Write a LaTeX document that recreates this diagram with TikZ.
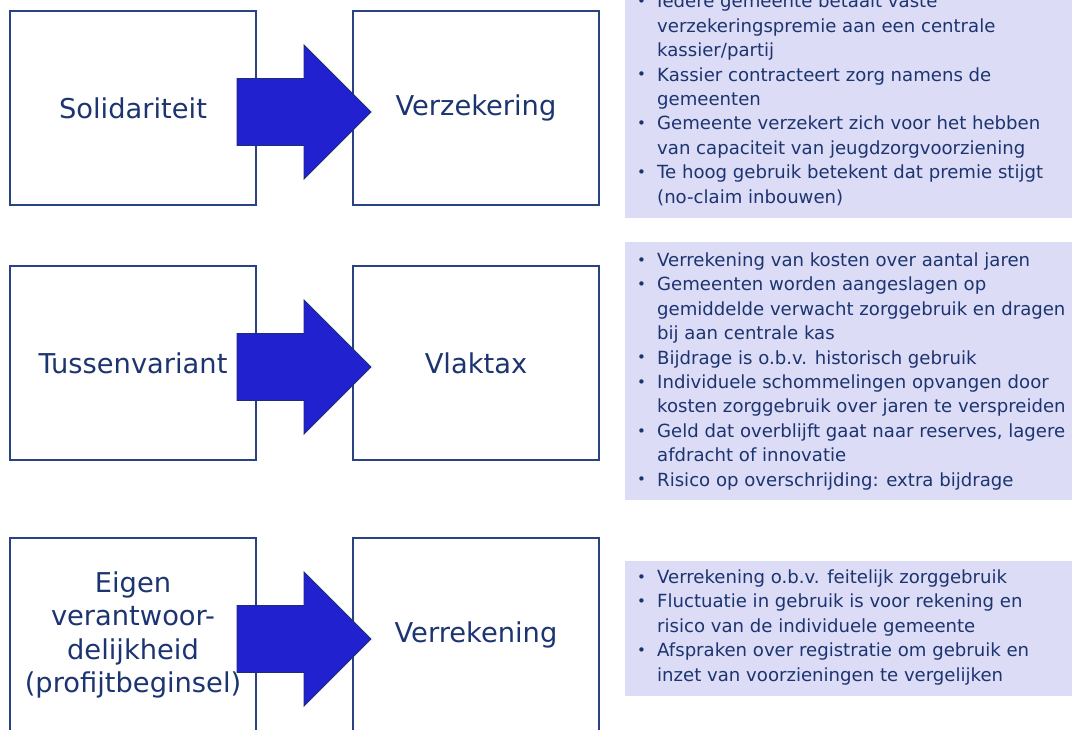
\documentclass[tikz,border=0pt]{standalone}
\usepackage{fontspec}
\setmainfont{DejaVu Sans}
\definecolor{txtc}{RGB}{28,52,112}
\definecolor{boxc}{RGB}{40,66,130}
\definecolor{panelc}{RGB}{220,220,246}
\definecolor{arrowc}{RGB}{33,33,208}
\definecolor{arrowline}{RGB}{30,45,120}
\newcommand\bul{\makebox[20pt][l]{\raisebox{1.2pt}{\fontsize{15}{15}\selectfont •}}}
\newcommand\cont{\hspace*{20pt}}
\tikzset{
  lbl/.style={draw=boxc, line width=1.6pt, minimum width=246pt, minimum height=194pt,
    text=txtc, font=\fontsize{27.3}{33.5}\selectfont, align=center, inner sep=0pt},
  panel/.style={fill=panelc},
  blist/.style={anchor=base west, text=txtc, font=\fontsize{18.1}{24.4}\selectfont,
    align=left, inner sep=0pt},
  blockarrow/.style={fill=arrowc, draw=arrowline, line width=0.8pt, line join=miter}
}
\begin{document}
\begin{tikzpicture}[x=1pt,y=-1pt]
\useasboundingbox (0,0) rectangle (1072,729);
\clip (0,0) rectangle (1072,729);
% panels
\fill[panel] (625,-10) rectangle (1080,218);
\fill[panel] (625,242) rectangle (1080,500);
\fill[panel] (625,561) rectangle (1080,696);
% boxes
\node[lbl] (sol) at (133,108) {Solidariteit};
\node[lbl] (ver) at (476,108) {Verzekering};
\node[lbl] (tus) at (133,363) {Tussenvariant};
\node[lbl] (vla) at (476,363) {Vlaktax};
\node[lbl] (eig) at (133,635) {Eigen\\verantwoor-\\delijkheid\\(profijtbeginsel)};
\node[lbl] (vrr) at (476,635) {Verrekening};
% block arrows
\foreach \yy in {112,367,639}{
  \draw[blockarrow, shift={(304,\yy)}] (-67,-33.5) -- (0,-33.5) -- (0,-67) -- (67,0) -- (0,67) -- (0,33.5) -- (-67,33.5) -- cycle;
}
% bullet texts (anchored at the baseline of the last line)
\node[blist] (t1) at (637,203) {\bul Iedere gemeente betaalt vaste\\
\cont verzekeringspremie aan een centrale\\
\cont kassier/partij\\
\bul Kassier contracteert zorg namens de\\
\cont gemeenten\\
\bul Gemeente verzekert zich voor het hebben\\
\cont van capaciteit van jeugdzorgvoorziening\\
\bul Te hoog gebruik betekent dat premie stijgt\\
\cont (no-claim inbouwen)};
\node[blist] (t2) at (637,486) {\bul Verrekening van kosten over aantal jaren\\
\bul Gemeenten worden aangeslagen op\\
\cont gemiddelde verwacht zorggebruik en dragen\\
\cont bij aan centrale kas\\
\bul Bijdrage is o.b.v. historisch gebruik\\
\bul Individuele schommelingen opvangen door\\
\cont kosten zorggebruik over jaren te verspreiden\\
\bul Geld dat overblijft gaat naar reserves, lagere\\
\cont afdracht of innovatie\\
\bul Risico op overschrijding: extra bijdrage};
\node[blist] (t3) at (637,681) {\bul Verrekening o.b.v. feitelijk zorggebruik\\
\bul Fluctuatie in gebruik is voor rekening en\\
\cont risico van de individuele gemeente\\
\bul Afspraken over registratie om gebruik en\\
\cont inzet van voorzieningen te vergelijken};
\end{tikzpicture}
\end{document}
